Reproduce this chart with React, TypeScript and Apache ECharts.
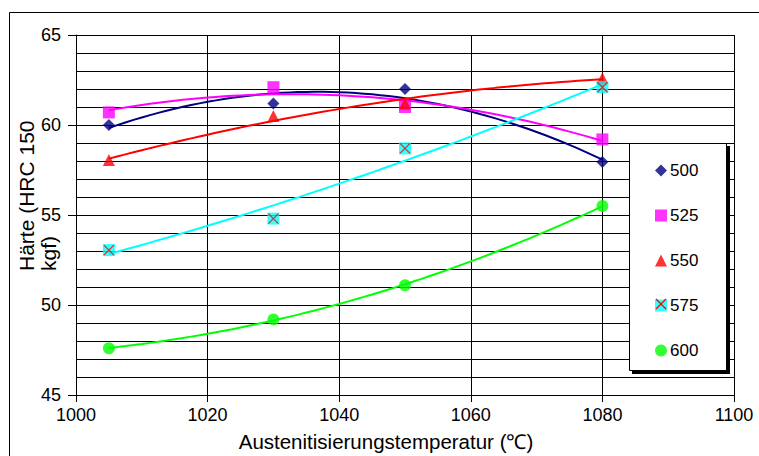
import React, { useEffect, useRef } from "react";
import * as echarts from "echarts";

const temps = [1005, 1030, 1050, 1080];
const seriesNames = ["500", "525", "550", "575", "600"];
const h500 = [60.0, 61.2, 62.0, 57.95];
const h525 = [60.7, 62.1, 61.0, 59.2];
const h550 = [58.05, 60.5, 61.2, 62.6];
const h575 = [53.05, 54.8, 58.7, 62.1];
const h600 = [47.6, 49.2, 51.1, 55.5];
const xTicks = [1000, 1020, 1040, 1060, 1080, 1100];
const yTicks = [45, 50, 55, 60, 65];

const colors = ["#000080", "#FF00FF", "#FF0000", "#00FFFF", "#00FF00"];
const symbols = ["diamond", "rect", "triangle", "rect", "circle"];
const FONT = "Liberation Sans, Arial, sans-serif";

// Excel-style polynomial (order 2) trendline, least squares fit of the data
function quadFit(xs: number[], ys: number[]) {
  const x0 = xs[0];
  const t = xs.map((x) => x - x0);
  let s0 = 0, s1 = 0, s2 = 0, s3 = 0, s4 = 0, b0 = 0, b1 = 0, b2 = 0;
  for (let i = 0; i < t.length; i++) {
    const v = t[i];
    s0 += 1; s1 += v; s2 += v * v; s3 += v * v * v; s4 += v * v * v * v;
    b0 += ys[i]; b1 += v * ys[i]; b2 += v * v * ys[i];
  }
  const M = [
    [s0, s1, s2, b0],
    [s1, s2, s3, b1],
    [s2, s3, s4, b2],
  ];
  for (let c = 0; c < 3; c++) {
    let p = c;
    for (let r = c + 1; r < 3; r++) if (Math.abs(M[r][c]) > Math.abs(M[p][c])) p = r;
    [M[c], M[p]] = [M[p], M[c]];
    for (let r = 0; r < 3; r++) {
      if (r === c) continue;
      const f = M[r][c] / M[c][c];
      for (let k = c; k < 4; k++) M[r][k] -= f * M[c][k];
    }
  }
  const a = M[0][3] / M[0][0];
  const b = M[1][3] / M[1][1];
  const cc = M[2][3] / M[2][2];
  const lo = xs[0];
  const hi = xs[xs.length - 1];
  const pts: number[][] = [];
  const n = 60;
  for (let i = 0; i <= n; i++) {
    const x = lo + ((hi - lo) * i) / n;
    const v = x - x0;
    pts.push([x, a + b * v + cc * v * v]);
  }
  return pts;
}

export default function App() {
  const ref = useRef<HTMLDivElement>(null);
  useEffect(() => {
    if (!ref.current) return;
    const chart = echarts.init(ref.current, undefined, { renderer: "svg" });
    const all = [h500, h525, h550, h575, h600];
    const series: any[] = [];
    all.forEach((ys, i) => {
      series.push({
        name: seriesNames[i] + " trend",
        type: "line",
        data: quadFit(temps, ys),
        showSymbol: false,
        symbol: "none",
        lineStyle: { color: colors[i], width: 2 },
        z: 3,
        silent: true,
      });
    });
    all.forEach((ys, i) => {
      series.push({
        name: seriesNames[i],
        type: "scatter",
        data: temps.map((x, j) => [x, ys[j]]),
        symbol: symbols[i],
        symbolSize: 12,
        itemStyle: { color: colors[i] },
        z: 4,
      });
    });
    series.push({
      name: "575x",
      type: "scatter",
      data: temps.map((x, j) => [x, h575[j]]),
      symbol: "path://M0,0 L10,10 M10,0 L0,10",
      symbolSize: 10,
      itemStyle: { color: "none", borderColor: "#FF0000", borderWidth: 1.3 },
      z: 5,
    });

    chart.setOption({
      animation: false,
      backgroundColor: "#fff",
      textStyle: { fontFamily: FONT },
      grid: { left: 76, top: 35, right: 25, bottom: 61, containLabel: false },
      xAxis: {
        type: "value",
        min: xTicks[0],
        max: xTicks[xTicks.length - 1],
        interval: xTicks[1] - xTicks[0],
        axisLine: { show: true, lineStyle: { color: "#000", width: 1 } },
        axisTick: { show: true, length: 7, lineStyle: { color: "#000" } },
        axisLabel: {
          color: "#000",
          fontSize: 18,
          margin: 11,
          fontFamily: FONT,
          formatter: (v: number) => String(v),
        },
        splitLine: { show: true, lineStyle: { color: "#000", width: 1 } },
      },
      yAxis: {
        type: "value",
        min: yTicks[0],
        max: yTicks[yTicks.length - 1],
        interval: yTicks[1] - yTicks[0],
        axisLine: { show: true, lineStyle: { color: "#000", width: 1 } },
        axisTick: { show: true, length: 8, lineStyle: { color: "#000" } },
        axisLabel: {
          color: "#000",
          fontSize: 18,
          margin: 15,
          fontFamily: FONT,
          formatter: (v: number) => String(v),
        },
        splitLine: { show: true, lineStyle: { color: "#000", width: 1 } },
        minorTick: { show: false, splitNumber: 5 },
        minorSplitLine: { show: true, lineStyle: { color: "#000", width: 1 } },
      },
      legend: {
        data: seriesNames.map((n, i) => ({ name: n, icon: symbols[i] })),
        orient: "vertical",
        left: 650,
        top: 157,
        itemWidth: 12,
        itemHeight: 12,
        itemGap: 28,
        textStyle: { color: "#000", fontSize: 17, fontFamily: FONT, padding: [0, 0, 0, -2] },
        z: 20,
      },
      graphic: [
        {
          type: "rect",
          z: -10,
          shape: { x: 9.5, y: 12.5, width: 800, height: 500 },
          style: { fill: "none", stroke: "#000", lineWidth: 1 },
        },
        {
          type: "rect",
          z: 10,
          shape: { x: 632, y: 146, width: 98, height: 228 },
          style: { fill: "#000", stroke: "none" },
        },
        {
          type: "rect",
          z: 11,
          shape: { x: 629.5, y: 143.5, width: 97, height: 227 },
          style: { fill: "#fff", stroke: "#000", lineWidth: 1 },
        },
        {
          type: "line",
          z: 30,
          shape: { x1: 656, y1: 299, x2: 666, y2: 309 },
          style: { stroke: "#FF0000", lineWidth: 1.3 },
        },
        {
          type: "line",
          z: 30,
          shape: { x1: 666, y1: 299, x2: 656, y2: 309 },
          style: { stroke: "#FF0000", lineWidth: 1.3 },
        },
        {
          type: "text",
          z: 30,
          x: 386,
          y: 441,
          style: {
            text: "Austenitisierungstemperatur (℃)",
            font: "20.5px " + FONT,
            fill: "#000",
            align: "center",
            verticalAlign: "middle",
          },
        },
        {
          type: "text",
          z: 30,
          x: 15,
          y: 271,
          rotation: Math.PI / 2,
          style: {
            text: "Härte (HRC 150\nkgf)",
            font: "21px " + FONT,
            fill: "#000",
            align: "left",
            verticalAlign: "top",
            lineHeight: 22,
          },
        },
      ],
      series,
    });
    return () => chart.dispose();
  }, []);
  return (
    <div
      ref={ref}
      style={{ position: "absolute", left: 0, top: 0, width: 759, height: 456 }}
    />
  );
}
